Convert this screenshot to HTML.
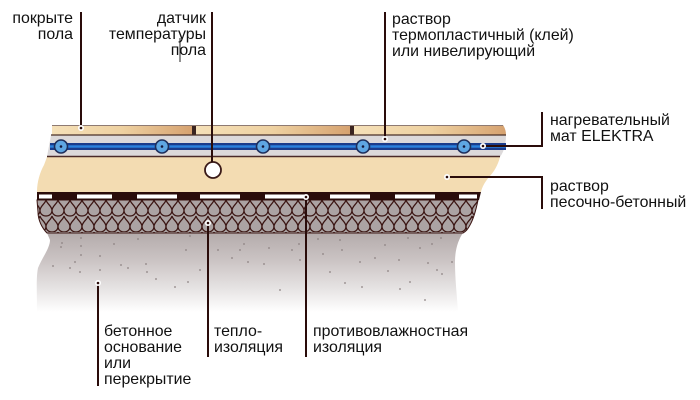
<!DOCTYPE html>
<html><head><meta charset="utf-8"><style>
html,body{margin:0;padding:0;background:#fff;}
svg{display:block;}
text{font-family:"Liberation Sans",Arial,sans-serif;font-size:15.9px;fill:#111;}
</style></head><body>
<svg width="700" height="400" viewBox="0 0 700 400" xmlns="http://www.w3.org/2000/svg">
<defs>
 <linearGradient id="conc" x1="0" y1="0" x2="0" y2="1">
  <stop offset="0" stop-color="#b4abab"/>
  <stop offset="0.35" stop-color="#cbc4c4"/>
  <stop offset="0.7" stop-color="#e6e3e3"/>
  <stop offset="1" stop-color="#ffffff"/>
 </linearGradient>
 <linearGradient id="tile" x1="0" x2="1" y1="0" y2="0">
  <stop offset="0" stop-color="#f5e0b8"/>
  <stop offset="0.5" stop-color="#eed1a1"/>
  <stop offset="1" stop-color="#d6a270"/>
 </linearGradient>
 <pattern id="ins" width="12" height="32" patternUnits="userSpaceOnUse" x="40" y="200">
  <rect width="12" height="32" fill="#aba3a3"/>
  <g fill="#aba3a3" stroke="#3b1512" stroke-width="1.3">
   <path d="M6,0 C7,4 12,6 12,10.5 C12,14 9,16 6,16 C3,16 0,14 0,10.5 C0,6 5,4 6,0 Z"/>
   <path d="M0,16 C1,20 6,22 6,26.5 C6,30 3,32 0,32 C-3,32 -6,30 -6,26.5 C-6,22 -1,20 0,16 Z"/>
   <path d="M12,16 C13,20 18,22 18,26.5 C18,30 15,32 12,32 C9,32 6,30 6,26.5 C6,22 11,20 12,16 Z"/>
  </g>
 </pattern>
</defs>

<!-- concrete -->
<path d="M47,233 L463,233 C458,240 455,250 455,262 C455,280 457,295 458,312 L37,312 C37,292 36,278 38,268 C42,258 50,248 50,240 Z" fill="url(#conc)"/>
<g fill="#8c8282">
<circle cx="62" cy="243" r="0.9"/><circle cx="61" cy="247" r="0.9"/><circle cx="81" cy="238" r="0.9"/><circle cx="81" cy="246" r="0.9"/><circle cx="81" cy="255" r="0.9"/><circle cx="100" cy="256" r="0.9"/><circle cx="75" cy="262" r="0.9"/><circle cx="53" cy="266" r="0.9"/><circle cx="70" cy="268" r="0.9"/><circle cx="80" cy="272" r="0.9"/><circle cx="100" cy="270" r="0.9"/><circle cx="114" cy="244" r="0.9"/><circle cx="121" cy="265" r="0.9"/><circle cx="128" cy="268" r="0.9"/><circle cx="138" cy="239" r="0.9"/><circle cx="146" cy="264" r="0.9"/><circle cx="147" cy="272" r="0.9"/><circle cx="156" cy="279" r="0.9"/><circle cx="186" cy="250" r="0.9"/><circle cx="190" cy="236" r="0.9"/><circle cx="188" cy="282" r="0.9"/><circle cx="175" cy="287" r="0.9"/><circle cx="200" cy="270" r="0.9"/><circle cx="218" cy="250" r="0.9"/><circle cx="232" cy="258" r="0.9"/><circle cx="240" cy="250" r="0.9"/><circle cx="248" cy="262" r="0.9"/><circle cx="244" cy="244" r="0.9"/><circle cx="264" cy="264" r="0.9"/><circle cx="269" cy="248" r="0.9"/><circle cx="292" cy="250" r="0.9"/><circle cx="280" cy="290" r="0.9"/><circle cx="299" cy="244" r="0.9"/><circle cx="300" cy="260" r="0.9"/><circle cx="318" cy="239" r="0.9"/><circle cx="323" cy="254" r="0.9"/><circle cx="330" cy="272" r="0.9"/><circle cx="340" cy="240" r="0.9"/><circle cx="345" cy="283" r="0.9"/><circle cx="342" cy="250" r="0.9"/><circle cx="360" cy="262" r="0.9"/><circle cx="362" cy="287" r="0.9"/><circle cx="375" cy="258" r="0.9"/><circle cx="388" cy="271" r="0.9"/><circle cx="399" cy="260" r="0.9"/><circle cx="400" cy="289" r="0.9"/><circle cx="410" cy="282" r="0.9"/><circle cx="420" cy="248" r="0.9"/><circle cx="428" cy="263" r="0.9"/><circle cx="432" cy="244" r="0.9"/><circle cx="437" cy="270" r="0.9"/><circle cx="441" cy="238" r="0.9"/><circle cx="442" cy="274" r="0.9"/><circle cx="452" cy="262" r="0.9"/><circle cx="425" cy="300" r="0.9"/><circle cx="408" cy="238" r="0.9"/><circle cx="385" cy="245" r="0.9"/>
</g>

<!-- insulation -->
<path d="M37,200 L478,200 C476,210 474,218 470,225 C468,229 465,232 463,233 L47,233 C42,228 38,220 38,212 Z" fill="url(#ins)" stroke="#3b1512" stroke-width="1"/>

<!-- damp-proof strip -->
<path d="M37,192 L481,192 L479,200 L37,200 Z" fill="#2a0c0a"/>
<g fill="#ffffff">
 <rect x="39" y="194.5" width="13" height="4"/>
 <rect x="77" y="194.5" width="35" height="4"/>
 <rect x="137" y="194.5" width="40" height="4"/>
 <rect x="200" y="194.5" width="40" height="4"/>
 <rect x="265" y="194.5" width="40" height="4"/>
 <rect x="330" y="194.5" width="40" height="4"/>
 <rect x="395" y="194.5" width="40" height="4"/>
 <rect x="459" y="194.5" width="18" height="4"/>
</g>

<!-- screed -->
<path d="M47,157 L500,157 C498,165 494,172 489,177 C485,182 482,187 481,192 L37,192 C37,182 40,172 44,165 Z" fill="#f3dcb2"/>

<!-- grey band with mat -->
<path d="M51,135 L506,135 C506,142 505,150 500,157 L47,157 C48,150 50,142 51,135 Z" fill="#dcd9da"/>
<line x1="47" y1="156.5" x2="500" y2="156.5" stroke="#4a2a28" stroke-width="1.4"/>
<rect x="50" y="143" width="456" height="7" fill="#1b3c8c"/>
<rect x="50" y="145.3" width="456" height="2.4" fill="#2c82de"/>
<g fill="#5ea6e2" stroke="#1e2e5a" stroke-width="1.6">
 <circle cx="61" cy="146.5" r="6.5"/><circle cx="162" cy="146.5" r="6.5"/><circle cx="263" cy="146.5" r="6.5"/><circle cx="363" cy="146.5" r="6.5"/><circle cx="464" cy="146.5" r="6.5"/>
</g>
<g fill="#14163a">
 <circle cx="61" cy="146.5" r="1.3"/><circle cx="162" cy="146.5" r="1.3"/><circle cx="263" cy="146.5" r="1.3"/><circle cx="363" cy="146.5" r="1.3"/><circle cx="464" cy="146.5" r="1.3"/>
</g>

<!-- tiles -->
<rect x="52" y="125" width="140" height="10" fill="url(#tile)"/>
<rect x="196" y="125" width="154" height="10" fill="url(#tile)"/>
<path d="M354,125 L503,125 C505,128 506,131 506,135 L354,135 Z" fill="url(#tile)"/>
<rect x="192" y="125" width="4" height="10" fill="#3a2420"/>
<rect x="350" y="125" width="4" height="10" fill="#3a2420"/>
<line x1="52" y1="125.5" x2="503" y2="125.5" stroke="#8e7a72" stroke-width="1"/>
<line x1="51" y1="135" x2="506" y2="135" stroke="#4a3028" stroke-width="1.2"/>

<!-- sensor -->
<circle cx="213" cy="170" r="8" fill="#ffffff" stroke="#3a1a18" stroke-width="1.8"/>

<!-- pointer lines -->
<g stroke="#2a0c0a" stroke-width="2" fill="none">
 <line x1="81" y1="12" x2="81" y2="128"/>
 <line x1="212" y1="12" x2="212" y2="162"/>
 <line x1="385" y1="12" x2="385" y2="139"/>
 <polyline points="483,146 542,146 542,112"/>
 <polyline points="447,177 542,177 542,209"/>
 <line x1="98" y1="283" x2="98" y2="386"/>
 <line x1="208" y1="223" x2="208" y2="357"/>
 <line x1="306" y1="197" x2="306" y2="357"/>
</g>
<line x1="180" y1="38" x2="180" y2="62" stroke="#222" stroke-width="1"/>
<g fill="#ffffff">
 <circle cx="81" cy="128" r="3"/><circle cx="385" cy="139" r="3"/><circle cx="483" cy="146" r="3"/><circle cx="447" cy="177" r="3"/><circle cx="98" cy="283" r="3"/><circle cx="208" cy="223" r="3"/><circle cx="306" cy="197" r="3"/>
</g>
<g fill="#2a0c0a">
 <circle cx="81" cy="128" r="1.3"/><circle cx="385" cy="139" r="1.3"/><circle cx="483" cy="146" r="1.3"/><circle cx="447" cy="177" r="1.3"/><circle cx="98" cy="283" r="1.3"/><circle cx="208" cy="223" r="1.3"/><circle cx="306" cy="197" r="1.3"/>
</g>

<!-- labels -->
<text x="73" y="23" text-anchor="end">покрыте</text>
<text x="73" y="39" text-anchor="end">пола</text>
<text x="206" y="23" text-anchor="end">датчик</text>
<text x="206" y="39" text-anchor="end">температуры</text>
<text x="206" y="55" text-anchor="end">пола</text>
<text x="392" y="24">раствор</text>
<text x="392" y="40">термопластичный (клей)</text>
<text x="392" y="56">или нивелирующий</text>
<text x="550" y="125">нагревательный</text>
<text x="550" y="141">мат ELEKTRA</text>
<text x="550" y="191">раствор</text>
<text x="550" y="207">песочно-бетонный</text>
<text x="104" y="336">бетонное</text>
<text x="104" y="352">основание</text>
<text x="104" y="368">или</text>
<text x="104" y="384">перекрытие</text>
<text x="214" y="336">тепло-</text>
<text x="214" y="352">изоляция</text>
<text x="313" y="336">противовлажностная</text>
<text x="313" y="352">изоляция</text>
</svg>
</body></html>
